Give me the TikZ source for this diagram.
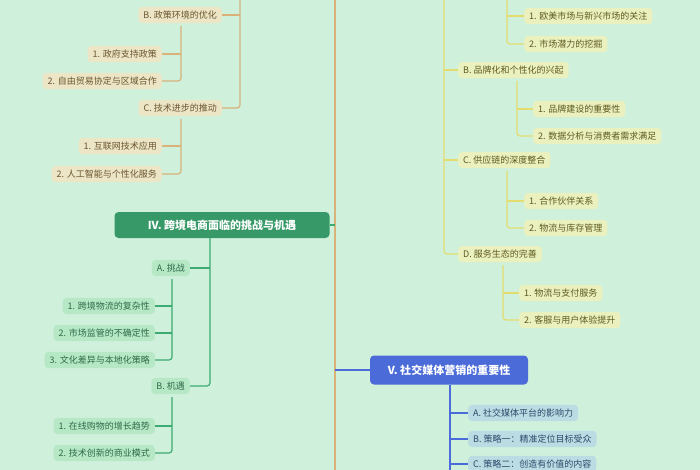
\documentclass[tikz,border=0pt]{standalone}
\usepackage{fontspec}
\setmainfont{Noto Sans CJK SC}
\begin{document}
\begin{tikzpicture}[x=1pt,y=-1pt,
 base/.style={rounded corners=4pt,inner xsep=5pt,inner ysep=4pt,font=\fontsize{9}{10}\selectfont},
 tan/.style={base,fill=tanF,text=tanT},
 yel/.style={base,fill=yelF,text=yelT},
 grn/.style={base,fill=grnF,text=grnT},
 blu/.style={base,fill=bluF,text=bluT},
 tl/.style={draw=tanL,line width=1.2pt,rounded corners=3pt},
 yl/.style={draw=yelL,line width=1.2pt,rounded corners=3pt},
 gl/.style={draw=grnL,line width=1.2pt,rounded corners=3pt},
 bl/.style={draw=bluL,line width=1.2pt,rounded corners=3pt}]
\definecolor{bg}{HTML}{CFF1DC}
\definecolor{tanF}{HTML}{ECE6C6}\definecolor{tanT}{HTML}{6B5530}\definecolor{tanL}{HTML}{D9B27A}
\definecolor{yelF}{HTML}{EAF0BE}\definecolor{yelT}{HTML}{5E5A20}\definecolor{yelL}{HTML}{E3DC6E}
\definecolor{grnF}{HTML}{B6E8C6}\definecolor{grnT}{HTML}{2E6A48}\definecolor{grnL}{HTML}{3DAA72}
\definecolor{bluF}{HTML}{BCDCE4}\definecolor{bluT}{HTML}{2A4A6A}\definecolor{bluL}{HTML}{4A6BD8}
\fill[bg] (0,0) rectangle (700,470);
\useasboundingbox (0,0) rectangle (700,470);
% trunk
\draw[draw=tanL,line width=2pt] (335,0) -- (335,470);
% top-left branch
\node[tan,anchor=east] (tB) at (222,15) {B. 政策环境的优化};
\node[tan,anchor=east] (tC) at (222,108) {C. 技术进步的推动};
\node[tan,anchor=east] (tB1) at (162,54) {1. 政府支持政策};
\node[tan,anchor=east] (tB2) at (162,81) {2. 自由贸易协定与区域合作};
\node[tan,anchor=east] (tC1) at (162,146) {1. 互联网技术应用};
\node[tan,anchor=east] (tC2) at (162,174) {2. 人工智能与个性化服务};
\draw[tl] (240,0) -- (240,108) -- (tC.east);
\draw[tl] (240,15) -- (tB.east);
\draw[tl] (181,26) -- (181,81) -- (tB2.east);
\draw[tl] (181,54) -- (tB1.east);
\draw[tl] (181,119) -- (181,174) -- (tC2.east);
\draw[tl] (181,146) -- (tC1.east);
% IV
\node[fill=grnL!90!black,text=white,rounded corners=4pt,minimum width=215pt,minimum height=26pt,font=\fontsize{11}{12}\selectfont\bfseries] (IV) at (222,225) {IV. 跨境电商面临的挑战与机遇};
\draw[draw=grnL,line width=1.5pt] (IV.east) -- (335,225);
\node[grn,anchor=east] (gA) at (190,268) {A. 挑战};
\node[grn,anchor=east] (gB) at (190,386) {B. 机遇};
\node[grn,anchor=east] (gA1) at (155,306) {1. 跨境物流的复杂性};
\node[grn,anchor=east] (gA2) at (155,333) {2. 市场监管的不确定性};
\node[grn,anchor=east] (gA3) at (155,360) {3. 文化差异与本地化策略};
\node[grn,anchor=east] (gB1) at (155,426) {1. 在线购物的增长趋势};
\node[grn,anchor=east] (gB2) at (155,453) {2. 技术创新的商业模式};
\draw[gl] (210,238) -- (210,386) -- (gB.east);
\draw[gl] (210,268) -- (gA.east);
\draw[gl] (172,279) -- (172,360) -- (gA3.east);
\draw[gl] (172,306) -- (gA1.east);
\draw[gl] (172,333) -- (gA2.east);
\draw[gl] (172,397) -- (172,453) -- (gB2.east);
\draw[gl] (172,426) -- (gB1.east);
% right yellow branch
\node[yel,anchor=west] (yB) at (458,70) {B. 品牌化和个性化的兴起};
\node[yel,anchor=west] (yC) at (458,160) {C. 供应链的深度整合};
\node[yel,anchor=west] (yD) at (458,254) {D. 服务生态的完善};
\node[yel,anchor=west] (yA1) at (524,16) {1. 欧美市场与新兴市场的关注};
\node[yel,anchor=west] (yA2) at (524,44) {2. 市场潜力的挖掘};
\node[yel,anchor=west] (yB1) at (533,109) {1. 品牌建设的重要性};
\node[yel,anchor=west] (yB2) at (533,136) {2. 数据分析与消费者需求满足};
\node[yel,anchor=west] (yC1) at (524,201) {1. 合作伙伴关系};
\node[yel,anchor=west] (yC2) at (524,228) {2. 物流与库存管理};
\node[yel,anchor=west] (yD1) at (519,293) {1. 物流与支付服务};
\node[yel,anchor=west] (yD2) at (519,320) {2. 客服与用户体验提升};
\draw[yl] (444,0) -- (444,254) -- (yD.west);
\draw[yl] (444,70) -- (yB.west);
\draw[yl] (444,160) -- (yC.west);
\draw[yl] (507,0) -- (507,44) -- (yA2.west);
\draw[yl] (507,16) -- (yA1.west);
\draw[yl] (517,81) -- (517,136) -- (yB2.west);
\draw[yl] (517,109) -- (yB1.west);
\draw[yl] (507,171) -- (507,228) -- (yC2.west);
\draw[yl] (507,201) -- (yC1.west);
\draw[yl] (503,265) -- (503,320) -- (yD2.west);
\draw[yl] (503,293) -- (yD1.west);
% V
\node[fill=bluL,text=white,rounded corners=4pt,minimum width=158pt,minimum height=29pt,font=\fontsize{11}{12}\selectfont\bfseries] (V) at (449,370) {V. 社交媒体营销的重要性};
\draw[draw=bluL,line width=1.5pt] (335,370) -- (V.west);
\node[blu,anchor=west] (vA) at (468,413) {A. 社交媒体平台的影响力};
\node[blu,anchor=west] (vB) at (468,439) {B. 策略一：精准定位目标受众};
\node[blu,anchor=west] (vC) at (468,464) {C. 策略二：创造有价值的内容};
\draw[bl] (450,385) -- (450,470);
\draw[bl] (450,413) -- (vA.west);
\draw[bl] (450,439) -- (vB.west);
\draw[bl] (450,464) -- (vC.west);
\end{tikzpicture}
\end{document}
